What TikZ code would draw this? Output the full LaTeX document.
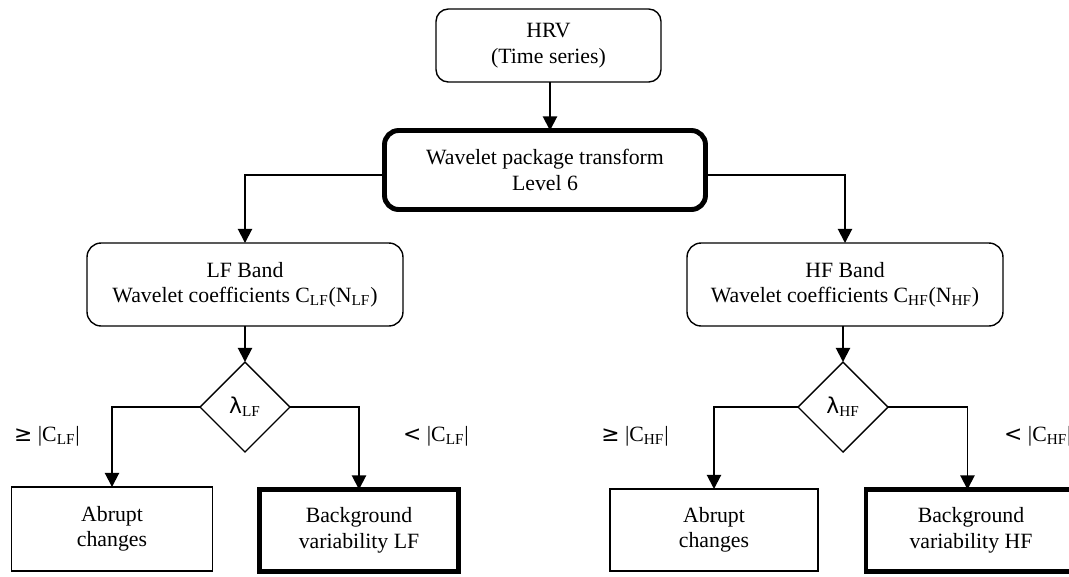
\documentclass[tikz,border=0pt]{standalone}
\usepackage{fontspec}
\setmainfont{Liberation Serif}
\newfontfamily\symfont{DejaVu Sans}
\usepackage{tikz}
\usetikzlibrary{shapes,arrows.meta,positioning}
\newcommand{\lowsub}[1]{\textsubscript{#1}}

\begin{document}
\begin{tikzpicture}[x=0.02cm, y=-0.02cm, font=\fontsize{12.4}{14.5}\selectfont,
    box/.style={draw, line width=0.8pt, align=center, inner sep=0pt, outer sep=0pt},
    roundbox/.style={box, rounded corners=7pt},
    thickbox/.style={box, line width=2.8pt},
    decision/.style={draw, diamond, aspect=1, line width=0.8pt, minimum width=1.8cm,
        minimum height=1.8cm, inner sep=0pt, outer sep=0pt},
    arrow/.style={-{Triangle[width=8pt,length=8pt]}, line width=1.1pt},
    line/.style={line width=1.1pt}]
\useasboundingbox (0,0) rectangle (1069,576);

    % Top boxes
    \node[roundbox, minimum width=4.5cm, minimum height=1.46cm] (hrv) at (548.5,45.5)
        {HRV\\(Time series)};
    \node[thickbox, rounded corners=8pt, minimum width=6.42cm, minimum height=1.58cm] (wpt) at (545,170)
        {Wavelet package transform\\Level 6};

    % Bands
    \node[roundbox, rounded corners=8pt, minimum width=6.32cm, minimum height=1.66cm] (lf) at (245,284.5)
        {LF Band\\Wavelet coefficients C\lowsub{LF}(N\lowsub{LF})};
    \node[roundbox, rounded corners=8pt, minimum width=6.32cm, minimum height=1.66cm] (hf) at (845,284.5)
        {HF Band\\Wavelet coefficients C\lowsub{HF}(N\lowsub{HF})};

    % Thresholds
    \node[decision] (dlf) at (245,407) {{\symfont λ}\lowsub{LF}};
    \node[decision] (dhf) at (843,407) {{\symfont λ}\lowsub{HF}};

    % Results
    \node[box, minimum width=4.02cm, minimum height=1.68cm] (ablf) at (112,529) {Abrupt\\changes};
    \node[thickbox, minimum width=3.98cm, minimum height=1.64cm] (bglf) at (359,530.5)
        {Background\\variability LF};
    \node[box, minimum width=4.16cm, minimum height=1.64cm] (abhf) at (714,530) {Abrupt\\changes};
    \node[thickbox, minimum width=4.2cm, minimum height=1.64cm] (bghf) at (971,530.5)
        {Background\\variability HF};

    % Branch labels
    \node (gelf) at (47,436) {{\symfont ≥} |C\lowsub{LF}|};
    \node (ltlf) at (436,436) {{\symfont <} |C\lowsub{LF}|};
    \node (gehf) at (635,436) {{\symfont ≥} |C\lowsub{HF}|};
    \node[anchor=west] (lthf) at (998,436) {{\symfont <} |C\lowsub{HF}|};

    % Arrows
    \draw[arrow] (hrv.south -| 550,0) -- (wpt.north -| 550,0);
    \draw[arrow] ([yshift=-3pt]wpt.west) -| (lf.north);
    \draw[arrow] ([yshift=-3pt]wpt.east) -| (hf.north);
    \draw[arrow] (lf) -- (dlf);
    \draw[arrow] (hf.south -| dhf) -- (dhf);
    \draw[arrow] (dlf.west) -| (ablf.north);
    \draw[arrow] (dlf.east) -| (bglf.north);
    \draw[arrow] (dhf.west) -| (abhf.north);
    \draw[arrow] (dhf.east) -| ([xshift=-2pt]bghf.north);
\end{tikzpicture}
\end{document}
